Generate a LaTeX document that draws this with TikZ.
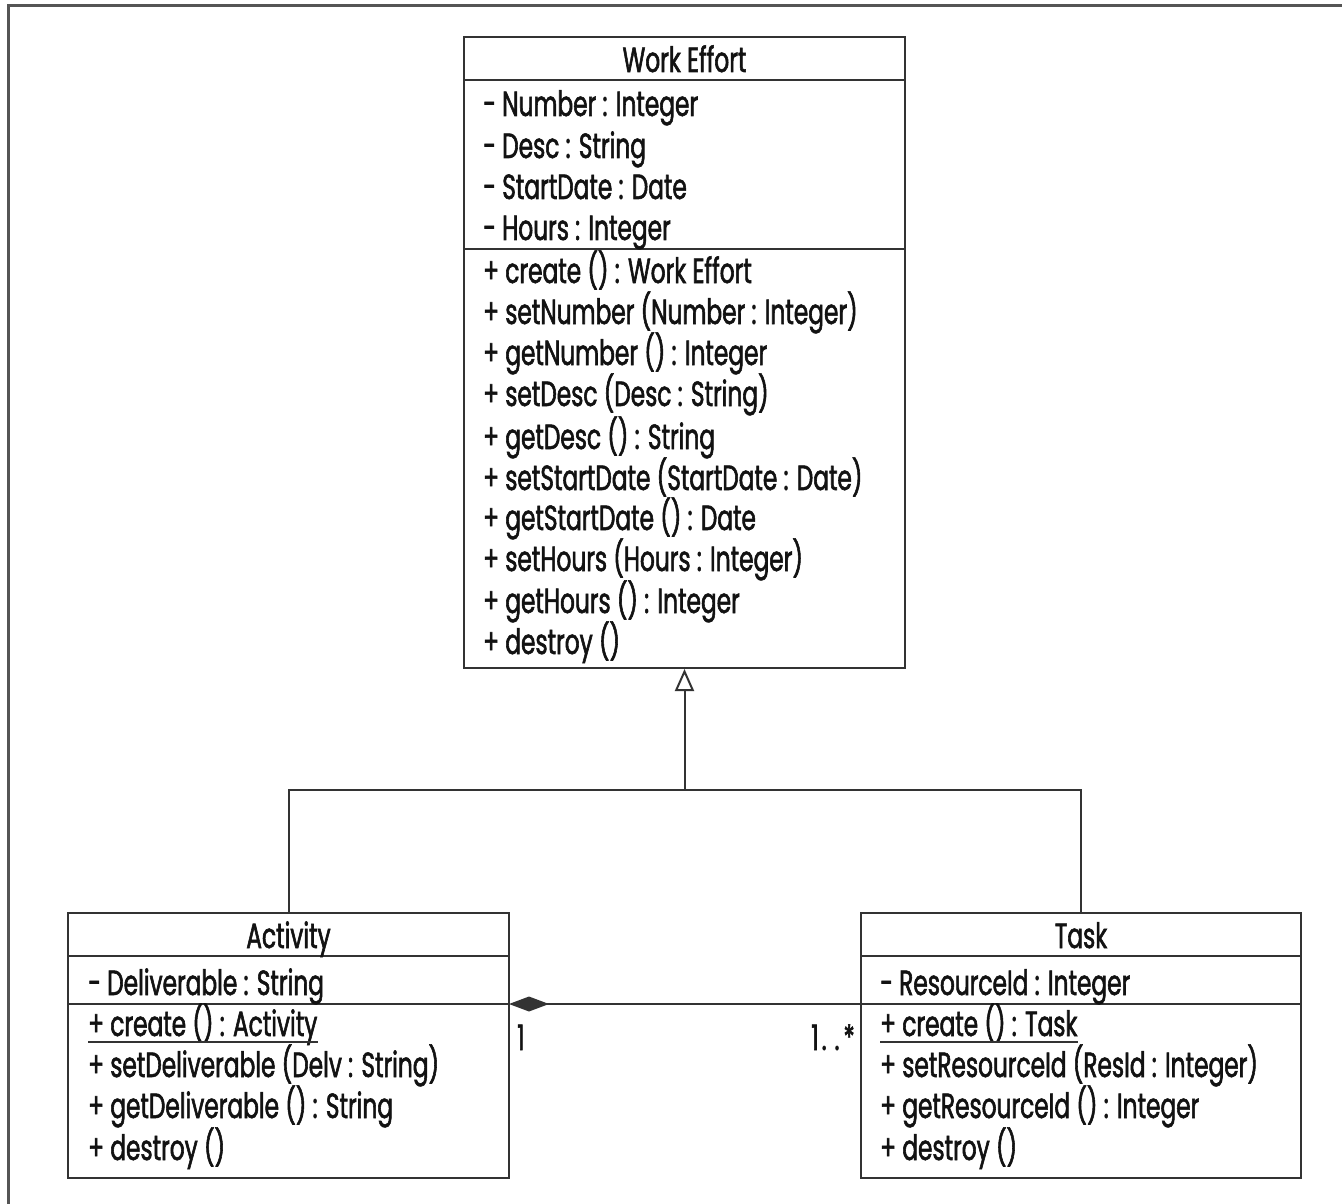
\documentclass[tikz,border=0pt]{standalone}
\usepackage{fontspec}
\setmainfont[FakeStretch=0.665, FakeBold=1.6]{Poppins}
\usetikzlibrary{arrows.meta}
\definecolor{linecol}{HTML}{333333}
\definecolor{framecol}{HTML}{555555}
\definecolor{txtcol}{HTML}{121212}
\tikzset{
  umlbox/.style={draw=linecol, line width=2pt, minimum width=#1, inner sep=0pt},
  lbl/.style={anchor=base west, inner sep=0pt, text=txtcol, font=\fontsize{35}{40}\selectfont},
  ttl/.style={anchor=base, inner sep=0pt, text=txtcol, font=\fontsize{35}{40}\selectfont},
  sep/.style={draw=linecol, line width=2pt},
  conn/.style={draw=linecol, line width=2pt},
}
\begin{document}
\begin{tikzpicture}[x=1pt,y=-1pt]
\useasboundingbox (0,0) rectangle (1342,1204);
% outer frame
\draw[framecol, line width=3pt] (8.5,1204) -- (8.5,6) -- (1342,6);

% Work Effort box
\node[umlbox=441pt, minimum height=631pt] (we) at (684.5,352.5) {};
\draw[sep] (464,80) -- (905,80);
\draw[sep] (464,249) -- (905,249);
\node[ttl] (wet) at (684.5,72) {Work Effort};
\node[lbl] (wa1) at (483,116) {- Number : Integer};
\node[lbl] (wa2) at (483,158) {- Desc : String};
\node[lbl] (wa3) at (483,199) {- StartDate : Date};
\node[lbl] (wa4) at (483,240) {- Hours : Integer};
\node[lbl] (wo1) at (483,283) {+ create () : Work Effort};
\node[lbl] (wo2) at (483,324) {+ setNumber (Number : Integer)};
\node[lbl] (wo3) at (483,365) {+ getNumber () : Integer};
\node[lbl] (wo4) at (483,406) {+ setDesc (Desc : String)};
\node[lbl] (wo5) at (483,449) {+ getDesc () : String};
\node[lbl] (wo6) at (483,490) {+ setStartDate (StartDate : Date)};
\node[lbl] (wo7) at (483,530) {+ getStartDate () : Date};
\node[lbl] (wo8) at (483,571) {+ setHours (Hours : Integer)};
\node[lbl] (wo9) at (483,613) {+ getHours () : Integer};
\node[lbl] (wo10) at (483,654) {+ destroy ()};

% Activity box
\node[umlbox=441pt, minimum height=265pt] (act) at (288.5,1045.5) {};
\draw[sep] (68,956) -- (509,956);
\draw[sep] (68,1004) -- (509,1004);
\node[ttl] (actt) at (288.5,948) {Activity};
\node[lbl] (aa1) at (88,995) {- Deliverable : String};
\node[lbl] (ao1) at (88,1036) {+ create () : Activity};
\draw[linecol, line width=1.5pt] ([yshift=-6pt]ao1.base west) -- ([yshift=-6pt]ao1.base east);
\node[lbl] (ao2) at (88,1077) {+ setDeliverable (Delv : String)};
\node[lbl] (ao3) at (88,1118) {+ getDeliverable () : String};
\node[lbl] (ao4) at (88,1160) {+ destroy ()};

% Task box
\node[umlbox=440pt, minimum height=265pt] (task) at (1081,1045.5) {};
\draw[sep] (861,956) -- (1301,956);
\draw[sep] (861,1004) -- (1301,1004);
\node[ttl] (taskt) at (1081,948) {Task};
\node[lbl] (ta1) at (880,995) {- ResourceId : Integer};
\node[lbl] (to1) at (880,1036) {+ create () : Task};
\draw[linecol, line width=1.5pt] ([yshift=-6pt]to1.base west) -- ([yshift=-6pt]to1.base east);
\node[lbl] (to2) at (880,1077) {+ setResourceId (ResId : Integer)};
\node[lbl] (to3) at (880,1118) {+ getResourceId () : Integer};
\node[lbl] (to4) at (880,1160) {+ destroy ()};

% generalization
\coordinate (j) at (684.5,790);
\draw[conn, -{Triangle[open, length=22pt, width=19pt, line width=2pt]}] (j) -- (we.south);
\draw[conn] (act.north) |- (j) -| (task.north);

% composition
\coordinate (ce) at (509,1004);
\coordinate (cw) at (861,1004);
\draw[conn, {Diamond[length=40pt, width=15pt, fill=linecol]}-] (ce) -- (cw);
\node[lbl] (m1) at (517,1050) {1};
\node[anchor=base east, inner sep=0pt, text=txtcol, font=\fontsize{35}{40}\selectfont] (m2) at (855,1050) {1\kern3pt.\kern8pt.\kern4pt*};
\end{tikzpicture}
\end{document}
